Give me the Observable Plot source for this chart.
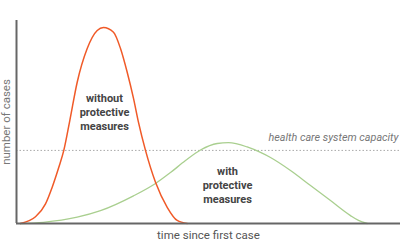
<!DOCTYPE html>
<html>
<head>
<meta charset="utf-8">
<script src="https://cdn.jsdelivr.net/npm/d3@7"></script>
<script src="https://cdn.jsdelivr.net/npm/@observablehq/plot@0.6"></script>
<style>
  html, body { margin: 0; padding: 0; background: #fff; }
</style>
</head>
<body>
<div id="chart"></div>
<script>
// time since first case (arbitrary units) and number of cases (arbitrary units, 0-100)
const withoutTime  = [4, 19, 29, 35.7, 42.3, 47.3, 53.3, 60.7, 70.7, 80.7, 87, 97, 104, 110.7, 117, 122, 129, 139, 150.7, 160.7, 170.7];
const withoutCases = [0, 3.3, 9.7, 17.9, 27.7, 36, 50.7, 69.6, 86.2, 95.1, 96.6, 94.2, 86.2, 74.5, 61.6, 49.8, 36, 20.3, 8, 1.5, 0];

const withTime  = [4, 27, 60.7, 84, 117, 139, 154, 169, 184, 200.7, 212, 230.7, 244, 254, 274, 294, 314, 334, 342, 350.7];
const withCases = [0, 0.6, 3.1, 6.3, 13.6, 19.7, 25.1, 31.0, 36.2, 39.4, 39.8, 37.7, 35.0, 32.5, 26.1, 18.7, 11.3, 3.9, 1.5, 0];

const capacity = 36;

const labels = [
  {t: 88, v: 55.2, text: "without\nprotective\nmeasures"},
  {t: 211, v: 19.2, text: "with\nprotective\nmeasures"}
];
const capacityLabel = {t: 382, v: 42.4, text: "health care system capacity"};
const xLabel = "time since first case";
const yLabel = "number of cases";

const without = withoutTime.map((t, i) => ({t, v: withoutCases[i]}));
const withM = withTime.map((t, i) => ({t, v: withCases[i]}));

const chart = Plot.plot({
  width: 400,
  height: 249,
  marginTop: 20,
  marginBottom: 26,
  marginLeft: 16,
  marginRight: 0,
  x: {domain: [0, 384], axis: null},
  y: {domain: [0, 100], axis: null},
  style: {fontFamily: "Roboto, sans-serif", background: "#fff"},
  marks: [
    Plot.ruleY([capacity], {stroke: "#aaa", strokeWidth: 1, strokeDasharray: "1.5,2"}),
    Plot.line(withM, {x: "t", y: "v", stroke: "#a9cf8f", strokeWidth: 1.3, curve: "monotone-x"}),
    Plot.line(without, {x: "t", y: "v", stroke: "#f05a28", strokeWidth: 1.5, curve: "monotone-x"}),
    Plot.ruleX([0], {stroke: "#666", strokeWidth: 2}),
    Plot.ruleY([0], {stroke: "#666", strokeWidth: 2}),
    Plot.text(labels, {x: "t", y: "v", text: "text", fontWeight: "bold", fontSize: 11, fill: "#444", lineHeight: 1.27}),
    Plot.text([capacityLabel], {x: "t", y: "v", text: "text", textAnchor: "end", fontStyle: "italic", fontSize: 10.8, fill: "#777"}),
    Plot.text([xLabel], {frameAnchor: "bottom", dy: 15, fontSize: 11.5, fill: "#555"}),
    Plot.text([yLabel], {frameAnchor: "left", textAnchor: "middle", dx: -10, rotate: -90, fontSize: 11.5, fill: "#777"})
  ]
});
document.getElementById("chart").appendChild(chart);
</script>
</body>
</html>
